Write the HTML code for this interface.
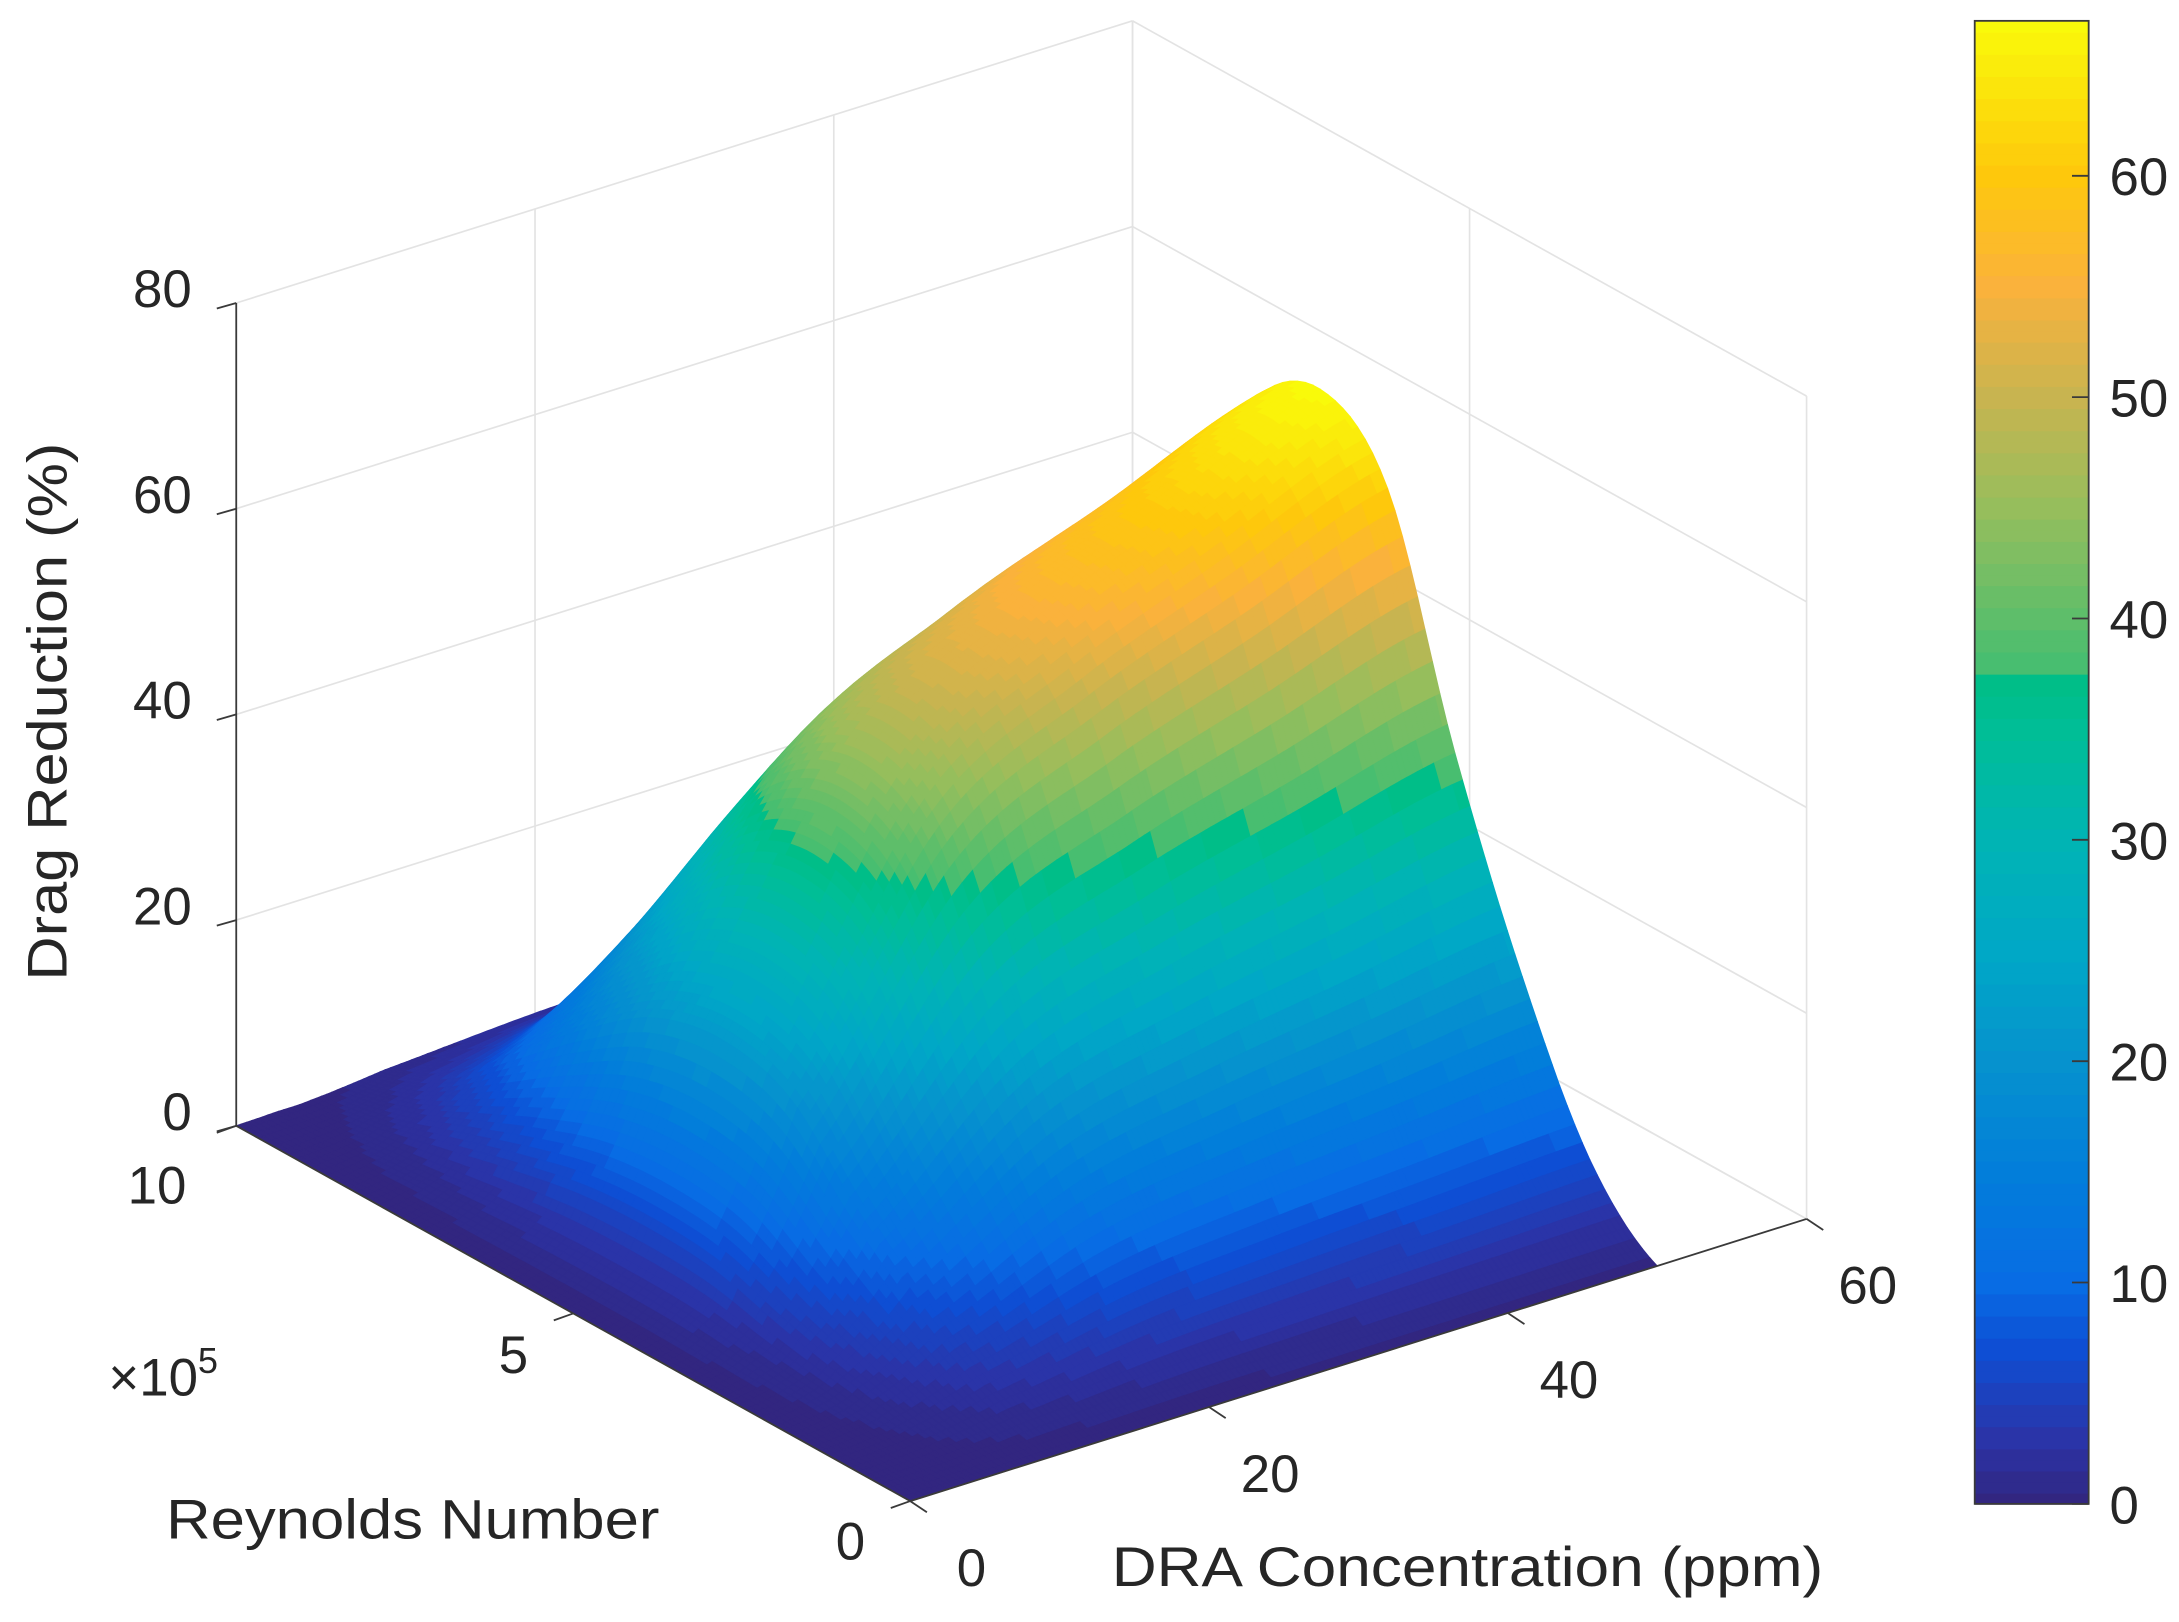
<!DOCTYPE html>
<html><head><meta charset="utf-8"><style>
html,body{margin:0;padding:0;background:#fff;}
svg{display:block;}
text{font-family:"Liberation Sans",Arial,sans-serif;fill:#262626;}
</style></head><body>
<svg id="chart" width="2179" height="1622" viewBox="0 0 1568 1167" preserveAspectRatio="none" xmlns="http://www.w3.org/2000/svg">
<g id="grid"></g>
<g id="surface"></g>
<g id="axes"></g>
<g id="colorbar"></g>
<text x="0" y="0" font-size="40" text-anchor="middle" transform="translate(48,512) rotate(-90)" textLength="387" lengthAdjust="spacingAndGlyphs">Drag Reduction (%)</text>
<text x="297" y="1107" font-size="40" text-anchor="middle" textLength="355" lengthAdjust="spacingAndGlyphs">Reynolds Number</text>
<text x="1056" y="1141" font-size="40" text-anchor="middle" textLength="512" lengthAdjust="spacingAndGlyphs">DRA Concentration (ppm)</text>
<text x="78" y="1004" font-size="38">×10<tspan font-size="26" dy="-16">5</tspan></text>
</svg>
<script>
// ---- data ----
const concentrations = [0, 2.5, 5, 10, 20, 30, 40, 50];           // ppm
const reynolds = [0, 1, 2, 3, 4, 5, 6, 7, 8, 9, 10];                 // x1e5
const dragReduction = [                                             // rows: reynolds, cols: concentrations
  [0, 0.0, 0.0, 0.0, 0.0, 0.0, 0.0, 0.0],
  [0, 0.15, 0.6, 2.2, 4.6, 5.5, 6.1, 6.7],
  [0, 0.5, 1.9, 6.8, 14.3, 17.1, 18.9, 20.8],
  [0, 0.9, 3.5, 12.8, 26.7, 31.9, 35.4, 38.9],
  [0, 1.4, 5.5, 20.0, 41.9, 50.0, 55.5, 61.0],
  [0, 1.5, 6.0, 22.0, 46.0, 55.0, 61.0, 67.0],
  [0, 1.4, 5.6, 20.5, 42.8, 51.2, 56.7, 62.3],
  [0, 1.1, 4.3, 15.8, 33.1, 39.6, 43.9, 48.2],
  [0, 0.7, 2.7, 9.9, 20.7, 24.8, 27.5, 30.2],
  [0, 0.3, 1.1, 4.0, 8.3, 9.9, 11.0, 12.1],
  [0, 0.1, 0.2, 0.9, 1.8, 2.2, 2.4, 2.7]
];
const zTicks = [0, 20, 40, 60, 80];
const reTicks = [0, 5, 10];
const concTicks = [0, 20, 40, 60];
const cbTicks = [0, 10, 20, 30, 40, 50, 60];
const cbMax = 67;
const cmapVals = [0, 3, 7, 10, 15, 20, 25, 30, 35, 37.9, 38, 45, 50, 55, 60, 67];
const cmapCols = [[50,38,128],[42,52,168],[14,78,212],[8,108,228],[2,126,218],[6,146,206],[0,168,198],[0,180,180],[0,190,150],[0,190,130],[72,190,112],[150,190,92],[200,180,80],[250,178,60],[254,200,12],[249,250,10]];

// ---- axis functions (display units) ----
const O = [655, 1080];
function px(c, r, z) { return O[0] + c * 645 / 60 - r * 485 / 10; }
function py(c, r, z) { return O[1] - c * 203 / 60 - r * 270 / 10 - z * 592 / 80; }
const NS = "http://www.w3.org/2000/svg";
function mk(tag, attrs, parent) {
  const e = document.createElementNS(NS, tag);
  for (const k in attrs) e.setAttribute(k, attrs[k]);
  parent.appendChild(e); return e;
}
function color(z) {
  z = Math.round(Math.max(0, Math.min(cbMax, z)));
  for (let i = 1; i < cmapVals.length; i++) {
    if (z <= cmapVals[i]) {
      const t = (z - cmapVals[i-1]) / (cmapVals[i] - cmapVals[i-1] || 1);
      const a = cmapCols[i-1], b = cmapCols[i];
      return `rgb(${Math.round(a[0]+(b[0]-a[0])*t)},${Math.round(a[1]+(b[1]-a[1])*t)},${Math.round(a[2]+(b[2]-a[2])*t)})`;
    }
  }
  const l = cmapCols[cmapCols.length-1]; return `rgb(${l[0]},${l[1]},${l[2]})`;
}
function cr(p0, p1, p2, p3, t) {
  return 0.5 * ((2*p1) + (-p0+p2)*t + (2*p0-5*p1+4*p2-p3)*t*t + (-p0+3*p1-3*p2+p3)*t*t*t);
}
function interp(xs, ys, x) {
  let i = 0; while (i < xs.length - 2 && x > xs[i+1]) i++;
  const t = (x - xs[i]) / (xs[i+1] - xs[i]);
  const y0 = ys[Math.max(0, i-1)], y1 = ys[i], y2 = ys[i+1], y3 = ys[Math.min(ys.length-1, i+2)];
  return cr(y0, y1, y2, y3, t);
}
function surfZ(c, r) {
  const col = dragReduction.map(row => interp(concentrations, row, c));
  return Math.max(0, interp(reynolds, col, r));
}

// ---- grid ----
const grid = document.getElementById('grid');
const gs = {stroke:'#e3e3e3','stroke-width':1.2,fill:'none'};
function gl(a, b) {
  const l = mk('line', Object.assign({x1:a[0],y1:a[1],x2:b[0],y2:b[1]}, gs), grid);
  
  
}
zTicks.forEach(z => {
  gl([px(0,10,z), py(0,10,z)], [px(60,10,z), py(60,10,z)]);
  gl([px(60,10,z), py(60,10,z)], [px(60,0,z), py(60,0,z)]);
});
concTicks.forEach(c => { if (c > 0) gl([px(c,10,0), py(c,10,0)], [px(c,10,80), py(c,10,80)]); });
reTicks.forEach(r => gl([px(60,r,0), py(60,r,0)], [px(60,r,80), py(60,r,80)]));
concTicks.forEach(c => gl([px(c,0,0), py(c,0,0)], [px(c,10,0), py(c,10,0)]));
reTicks.forEach(r => gl([px(0,r,0), py(0,r,0)], [px(60,r,0), py(60,r,0)]));

// ---- surface ----
const surf = document.getElementById('surface');
const NC = 140, NR = 90, cMax = concentrations[concentrations.length-1], rMax = reynolds[reynolds.length-1];
const Z = [];
for (let j = 0; j <= NR; j++) { Z.push([]); for (let i = 0; i <= NC; i++) Z[j].push(surfZ(cMax*i/NC, rMax*j/NR)); }
const quads = [];
for (let j = 0; j < NR; j++) for (let i = 0; i < NC; i++) {
  const c0 = cMax*i/NC, c1 = cMax*(i+1)/NC, r0 = rMax*j/NR, r1 = rMax*(j+1)/NR;
  quads.push({i, j, d: 203*(c0+c1)/120 + 270*(r0+r1)/20, c0, c1, r0, r1});
}
quads.sort((a, b) => b.d - a.d);
quads.forEach(q => {
  const z00 = Z[q.j][q.i], z10 = Z[q.j][q.i+1], z01 = Z[q.j+1][q.i], z11 = Z[q.j+1][q.i+1];
  const pts = [[q.c0,q.r0,z00],[q.c1,q.r0,z10],[q.c1,q.r1,z11],[q.c0,q.r1,z01]]
    .map(p => px(p[0],p[1],p[2]).toFixed(1) + ',' + py(p[0],p[1],p[2]).toFixed(1)).join(' ');
  const col = color((z00+z10+z01+z11)/4);
  const p = mk('polygon', {points: pts, fill: col, stroke: col, 'stroke-width': 0.7}, surf);
  
  
});

// ---- axes ----
const ax = document.getElementById('axes');
const as = {stroke:'#3a3a3a','stroke-width':1.3};
function al(a, b, name) {
  const l = mk('line', Object.assign({x1:a[0],y1:a[1],x2:b[0],y2:b[1]}, as), ax);
  
  
}
al([px(0,10,0),py(0,10,0)], [px(0,10,80),py(0,10,80)], 'z-axis-line');
al([px(0,10,0),py(0,10,0)], [px(0,0,0),py(0,0,0)], 'reynolds-axis-line');
al([px(0,0,0),py(0,0,0)], [px(60,0,0),py(60,0,0)], 'dra-axis-line');
zTicks.forEach(z => {
  const x = px(0,10,z), y = py(0,10,z);
  al([x,y], [x-14,y+4], 'z-tick');
  const t = mk('text', {x: 138, y: y + 3, 'font-size': 38, 'text-anchor': 'end'}, ax);
  
  
  t.textContent = z;
});
reTicks.forEach(r => {
  const x = px(0,r,0), y = py(0,r,0);
  al([x,y], [x-14,y+5], 'reynolds-tick');
  const t = mk('text', {x: x - 43 - (r===10?14:0), y: y + 56 - (r===5?13:0) - (r===0?14:0), 'font-size': 38, 'text-anchor': 'middle'}, ax);
  
  
  t.textContent = r;
});
concTicks.forEach(c => {
  const x = px(c,0,0), y = py(c,0,0);
  al([x,y], [x+12,y+8], 'dra-tick');
  const t = mk('text', {x: x + 44, y: y + 61, 'font-size': 38, 'text-anchor': 'middle'}, ax);
  
  
  t.textContent = c;
});

// ---- colorbar ----
const cb = document.getElementById('colorbar');
const cbX = 1421, cbW = 82, cbTop = 15, cbBot = 1082;
function cy(v) { return cbBot - v * (cbBot - cbTop) / cbMax; }
for (let v = 0; v < cbMax; v += 0.5) {
  const r = mk('rect', {x: cbX, y: cy(v+0.5), width: cbW, height: cy(v) - cy(v+0.5) + 0.6, fill: color(v + 0.25)}, cb);
  
  
}
const fr = mk('rect', {x: cbX, y: cbTop, width: cbW, height: cbBot - cbTop, fill: 'none', stroke: '#3a3a3a', 'stroke-width': 1.3}, cb);


cbTicks.forEach(v => {
  const y = cy(v);
  const l = mk('line', {x1: cbX + cbW - 12, y1: y, x2: cbX + cbW, y2: y, stroke: '#3a3a3a', 'stroke-width': 1.3}, cb);
  
  
  const t = mk('text', {x: 1518, y: y + 14, 'font-size': 38}, cb);
  
  
  t.textContent = v;
});
</script>
</body></html>
